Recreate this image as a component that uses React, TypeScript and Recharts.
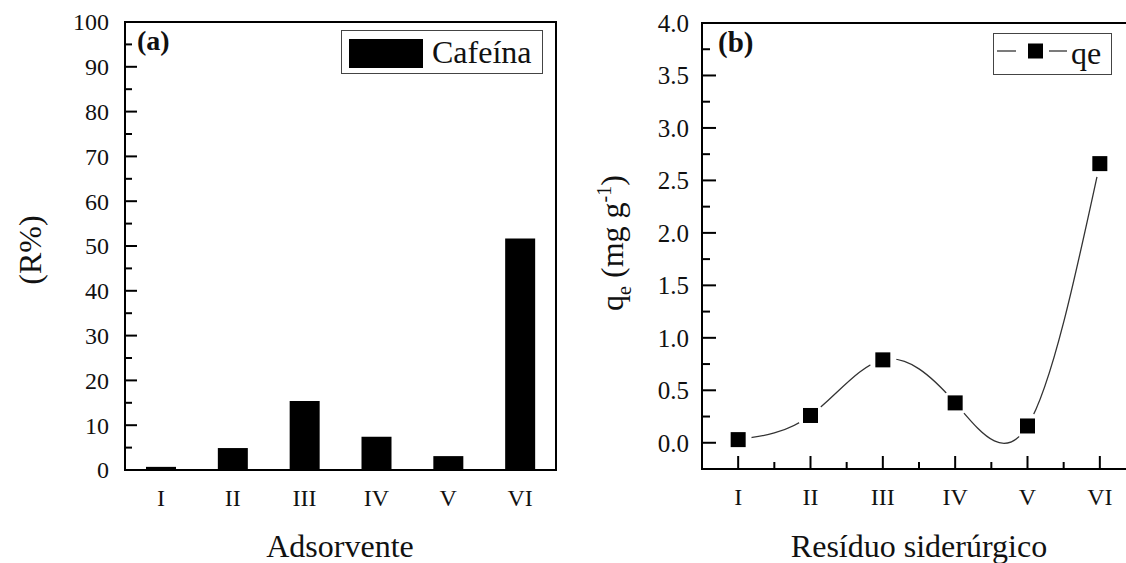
import React from 'react';
import { BarChart, Bar, LineChart, Line, XAxis, YAxis, ReferenceArea } from 'recharts';

const categories = ['I', 'II', 'III', 'IV', 'V', 'VI'];
const removalPct = [0.7, 4.9, 15.4, 7.4, 3.1, 51.7];
const qeValues = [0.03, 0.26, 0.79, 0.38, 0.16, 2.66];

const removalMajorTicks = [0, 10, 20, 30, 40, 50, 60, 70, 80, 90, 100];
const removalMinorTicks = [5, 15, 25, 35, 45, 55, 65, 75, 85, 95];
const qeMajorTicks = [0, 0.5, 1.0, 1.5, 2.0, 2.5, 3.0, 3.5, 4.0];
const qeMinorTicks = [0.25, 0.75, 1.25, 1.75, 2.25, 2.75, 3.25, 3.75];
const xMajorTicks = [1, 2, 3, 4, 5, 6];
const xMinorTicks = [1.5, 2.5, 3.5, 4.5, 5.5];

const barData = categories.map((name, i) => ({ name, value: removalPct[i] }));
const lineData = categories.map((name, i) => ({ x: i + 1, name, qe: qeValues[i] }));

const FONT = '"Liberation Serif", "Times New Roman", serif';
const INK = '#111';

const isIn = (arr: number[], v: number) => arr.some((a) => Math.abs(a - v) < 1e-6);

const makeYTick = (major: number[], majorLen: number, minorLen: number, fontSize: number, gap: number, fmt: (v: number) => string) =>
  (props: any) => {
    const { x, y, payload } = props;
    const v = Number(payload.value);
    const isMajor = isIn(major, v);
    return (
      <g>
        <line x1={x} x2={x + (isMajor ? majorLen : minorLen)} y1={y} y2={y} stroke="#000" strokeWidth={2} />
        {isMajor && (
          <text x={x - gap} y={y} dy="0.35em" textAnchor="end" fontFamily={FONT} fontSize={fontSize} fill={INK}>
            {fmt(v)}
          </text>
        )}
      </g>
    );
  };

const barXTick = (props: any) => {
  const { x, y, payload } = props;
  return (
    <text x={x} y={y + 36} textAnchor="middle" fontFamily={FONT} fontSize={24} fill={INK}>
      {payload.value}
    </text>
  );
};

const lineXTick = (props: any) => {
  const { x, y, payload } = props;
  const v = Number(payload.value);
  const isMajor = isIn(xMajorTicks, v);
  return (
    <g>
      <line x1={x} x2={x} y1={y} y2={y - (isMajor ? 13 : 7)} stroke="#000" strokeWidth={2} />
      {isMajor && (
        <text x={x} y={y + 36} textAnchor="middle" fontFamily={FONT} fontSize={24} fill={INK}>
          {categories[Math.round(v) - 1]}
        </text>
      )}
    </g>
  );
};

const squareDot = (props: any) => {
  const { cx, cy, index } = props;
  if (cx == null || cy == null) return <g key={`d${index}`} />;
  return (
    <g key={`d${index}`}>
      <circle cx={cx} cy={cy} r={13.5} fill="#fff" />
      <rect x={cx - 7.5} y={cy - 7.5} width={15} height={15} fill="#000" />
    </g>
  );
};

const textStyle: React.CSSProperties = { fontFamily: FONT, color: INK, whiteSpace: 'nowrap', lineHeight: 1 };

export default function App() {
  return (
    <div style={{ position: 'fixed', left: 0, top: 0, width: 1126, height: 563, overflow: 'hidden', background: '#fff', fontFamily: FONT }}>
      <div style={{ position: 'absolute', left: 0, top: 0 }}>
        <BarChart width={600} height={563} data={barData} margin={{ top: 22, right: 44, bottom: 33, left: 65 }} barSize={30}>
          <XAxis dataKey="name" height={60} axisLine={{ stroke: '#000', strokeWidth: 2 }} tickLine={false} tickSize={0} tickMargin={0} tick={barXTick} interval={0} />
          <YAxis
            type="number"
            domain={[0, 100]}
            ticks={[...removalMajorTicks, ...removalMinorTicks].sort((a, b) => a - b)}
            width={60}
            axisLine={{ stroke: '#000', strokeWidth: 2 }}
            tickLine={false}
            tickSize={0}
            tickMargin={0}
            interval={0}
            allowDataOverflow
            tick={makeYTick(removalMajorTicks, 12, 7, 24, 16, (v) => String(v))}
          />
          <ReferenceArea y1={0} y2={100} fill="none" stroke="#000" strokeWidth={2} ifOverflow="visible" />
          <Bar dataKey="value" fill="#000" isAnimationActive={false} />
        </BarChart>
      </div>

      <div style={{ position: 'absolute', left: 600, top: 0 }}>
        <LineChart width={560} height={563} data={lineData} margin={{ top: 23, right: 24, bottom: 34, left: 42 }}>
          <XAxis
            dataKey="x"
            type="number"
            domain={[0.5, 6.5]}
            ticks={[...xMajorTicks, ...xMinorTicks].sort((a, b) => a - b)}
            height={60}
            axisLine={{ stroke: '#000', strokeWidth: 2 }}
            tickLine={false}
            tickSize={0}
            tickMargin={0}
            interval={0}
            allowDataOverflow
            tick={lineXTick}
          />
          <YAxis
            type="number"
            domain={[-0.25, 4]}
            ticks={[...qeMajorTicks, ...qeMinorTicks].sort((a, b) => a - b)}
            width={60}
            axisLine={{ stroke: '#000', strokeWidth: 2 }}
            tickLine={false}
            tickSize={0}
            tickMargin={0}
            interval={0}
            allowDataOverflow
            tick={makeYTick(qeMajorTicks, 14, 8, 25, 13, (v) => v.toFixed(1))}
          />
          <ReferenceArea y1={-0.25} y2={4} fill="none" stroke="#000" strokeWidth={2} ifOverflow="visible" />
          <Line type="natural" dataKey="qe" stroke="#333" strokeWidth={1.3} dot={squareDot} activeDot={false} isAnimationActive={false} />
        </LineChart>
      </div>

      {/* Panel labels */}
      <div style={{ ...textStyle, position: 'absolute', left: 137, top: 27, fontSize: 28, fontWeight: 'bold' }}>(a)</div>
      <div style={{ ...textStyle, position: 'absolute', left: 718, top: 28, fontSize: 29, fontWeight: 'bold' }}>(b)</div>

      {/* Legend A */}
      <div style={{ position: 'absolute', left: 341, top: 30, width: 200, height: 42, border: '1px solid #444', background: '#fff' }}>
        <div style={{ position: 'absolute', left: 7, top: 8, width: 74, height: 29, background: '#000' }} />
        <div style={{ ...textStyle, position: 'absolute', left: 90, top: 5, fontSize: 32 }}>Cafeína</div>
      </div>

      {/* Legend B */}
      <div style={{ position: 'absolute', left: 993, top: 33, width: 117, height: 40, border: '1px solid #444', background: '#fff' }}>
        <svg width={80} height={40} style={{ position: 'absolute', left: 0, top: 0 }}>
          <line x1={3} x2={22} y1={17} y2={17} stroke="#333" strokeWidth={1.3} />
          <rect x={34} y={9.5} width={15} height={15} fill="#000" />
          <line x1={55} x2={73} y1={17} y2={17} stroke="#333" strokeWidth={1.3} />
        </svg>
        <div style={{ ...textStyle, position: 'absolute', left: 77, top: 3, fontSize: 32 }}>qe</div>
      </div>

      {/* Axis titles */}
      <div style={{ ...textStyle, position: 'absolute', left: 340, top: 546, transform: 'translate(-50%, -50%)', fontSize: 32 }}>Adsorvente</div>
      <div style={{ ...textStyle, position: 'absolute', left: 919, top: 546, transform: 'translate(-50%, -50%)', fontSize: 32 }}>Resíduo siderúrgico</div>
      <div style={{ ...textStyle, position: 'absolute', left: 30, top: 250, transform: 'translate(-50%, -50%) rotate(-90deg)', fontSize: 32 }}>(R%)</div>
      <div style={{ ...textStyle, position: 'absolute', left: 614, top: 243, transform: 'translate(-50%, -50%) rotate(-90deg)', fontSize: 32 }}>
        q<sub style={{ fontSize: 20 }}>e</sub> (mg g<sup style={{ fontSize: 20 }}>-1</sup>)
      </div>
    </div>
  );
}
